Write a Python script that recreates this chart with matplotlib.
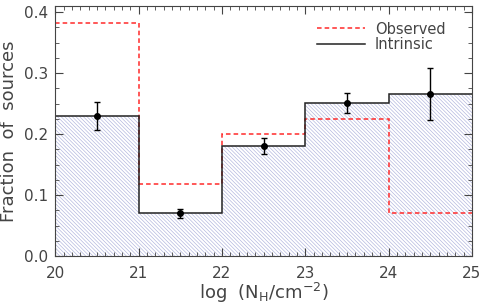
import matplotlib.pyplot as plt
from matplotlib.ticker import MultipleLocator

plt.rcParams["font.family"] = "DejaVu Sans"
plt.rcParams["mathtext.default"] = "regular"
plt.rcParams["hatch.linewidth"] = 0.45
plt.rcParams["hatch.color"] = "#aeb2dc"

edges = [20, 21, 22, 23, 24, 25]
observed = [0.382, 0.118, 0.200, 0.225, 0.070]
intrinsic = [0.229, 0.070, 0.180, 0.251, 0.266]
centers = [20.5, 21.5, 22.5, 23.5, 24.5]
err_lo = [0.023, 0.007, 0.013, 0.016, 0.043]
err_hi = [0.024, 0.007, 0.013, 0.016, 0.043]

GREY = "#444444"


def main():
    fig = plt.figure(figsize=(4.8, 3.07), dpi=100)
    ax = fig.add_axes([0.115, 0.166, 0.868, 0.814])

    # hatched fill under the intrinsic distribution
    ax.stairs(intrinsic, edges, baseline=0, fill=True, facecolor="none",
              edgecolor="#aeb2dc", hatch="\\" * 9, linewidth=0)
    ax.stairs(observed, edges, baseline=None, color="#ff2a2a", ls=(0, (3, 2)),
              lw=1.1, label="Observed")
    ax.stairs(intrinsic, edges, baseline=None, color="#222222", lw=1.1,
              label="Intrinsic")
    ax.errorbar(centers, intrinsic, yerr=[err_lo, err_hi], fmt="o", color="black",
                ms=4, capsize=2.5, elinewidth=1, capthick=1)

    ax.set_xlim(20, 25)
    ax.set_ylim(0, 0.41)
    ax.xaxis.set_major_locator(MultipleLocator(1))
    ax.xaxis.set_minor_locator(MultipleLocator(0.1))
    ax.yaxis.set_major_locator(MultipleLocator(0.1))
    ax.yaxis.set_minor_locator(MultipleLocator(0.025))
    ax.yaxis.set_major_formatter(lambda v, p: f"{v:.1f}")
    ax.tick_params(which="both", direction="in", top=True, right=True,
                   labelsize=11, colors=GREY, labelcolor=GREY)
    ax.tick_params(which="major", length=6, pad=5)
    ax.tick_params(which="minor", length=3)
    ax.tick_params(axis="x", which="major", pad=7)
    for s in ax.spines.values():
        s.set_color(GREY)

    ax.set_xlabel(r"log  (N$_H$/cm$^{-2}$)", fontsize=13, color=GREY,
                  labelpad=0)
    ax.set_ylabel("Fraction  of  sources", fontsize=13, color=GREY, labelpad=4)
    ax.legend(loc="upper right", frameon=False, fontsize=10.5, handlelength=3.3,
              borderaxespad=0.4, labelspacing=0.05, handletextpad=0.7,
              bbox_to_anchor=(0.965, 0.985), labelcolor=GREY)
    fig.savefig("out.png", dpi=100)


if __name__ == "__main__":
    main()
